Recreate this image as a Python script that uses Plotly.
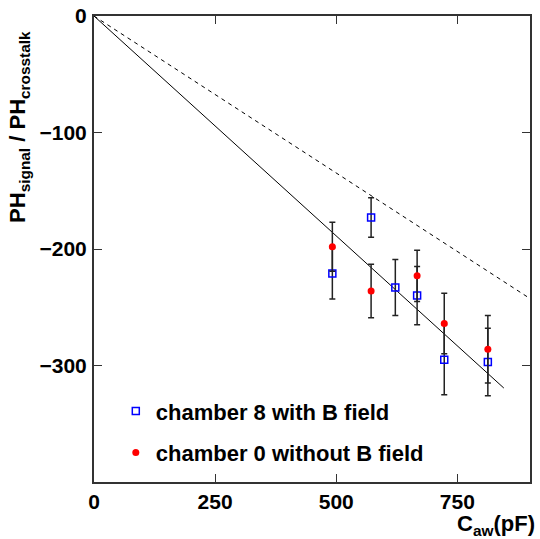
import plotly.graph_objects as go

# chamber 8 with B field (blue open squares)
ch8_x = [492, 572, 622, 667, 723, 813]
ch8_y = [-221, -173, -233, -240, -295, -297]
ch8_err = [22, 17, 24, 25, 30, 29]

# chamber 0 without B field (red dots)
ch0_x = [492, 572, 667, 723, 813]
ch0_y = [-198, -236, -223, -264, -286]
ch0_err = [21, 23, 22, 26, 29]

# straight lines through the origin
fit_slope = -0.3775
fit_x = [0, 846]
pred_slope = -0.2695
pred_x = [0, 900]

x_ticks = [0, 250, 500, 750]
y_ticks = [-300, -200, -100, 0]

FONT = "Liberation Sans, Arial, sans-serif"

fig = go.Figure()

fig.add_trace(go.Scatter(
    x=pred_x, y=[pred_slope * v for v in pred_x],
    mode="lines", line=dict(color="black", width=1, dash="4px,4px"),
    showlegend=False, hoverinfo="skip",
))
fig.add_trace(go.Scatter(
    x=fit_x, y=[fit_slope * v for v in fit_x],
    mode="lines", line=dict(color="black", width=1),
    showlegend=False, hoverinfo="skip",
))

fig.add_trace(go.Scatter(
    x=ch8_x, y=ch8_y, mode="markers", name="chamber 8 with B field",
    legendgroup="a",
    marker=dict(symbol="square-open", size=7, color="blue", line=dict(width=1.5)),
    error_y=dict(type="data", array=ch8_err, color="#222", thickness=1.5, width=3),
))
fig.add_trace(go.Scatter(
    x=ch0_x, y=ch0_y, mode="markers", name="chamber 0 without B field",
    legendgroup="b",
    marker=dict(symbol="circle", size=7, color="red"),
    error_y=dict(type="data", array=ch0_err, color="#222", thickness=1.5, width=3),
))

axis_common = dict(
    showgrid=False, zeroline=False, showline=True, mirror="ticks",
    linecolor="#333", linewidth=2, ticks="inside", ticklen=8,
    tickcolor="#333", tickwidth=1, automargin=False, ticklabeloverflow="allow",
    tickfont=dict(family=FONT, size=21, color="black", weight="bold"),
)

fig.update_xaxes(range=[0, 900], tickvals=x_ticks, **axis_common)
fig.update_yaxes(range=[-400, 0], tickvals=y_ticks, ticklabelstandoff=1, **axis_common)

fig.update_layout(
    width=540, height=539,
    margin=dict(l=94, r=10, t=16, b=57, autoexpand=False),
    plot_bgcolor="white", paper_bgcolor="white",
    showlegend=True,
    legend=dict(
        x=0.05, y=0.197, xanchor="left", yanchor="top",
        bgcolor="rgba(0,0,0,0)", tracegroupgap=10,
        font=dict(family=FONT, size=22, color="black", weight="bold"),
        itemwidth=30,
    ),
    annotations=[
        dict(
            text="PH<sub>signal</sub> / PH<sub>crosstalk</sub>",
            xref="paper", yref="paper", x=-0.172, y=0.762,
            xanchor="center", yanchor="middle", textangle=-90, showarrow=False,
            font=dict(family=FONT, size=22, color="black", weight="bold"),
        ),
        dict(
            text="C<sub>aw</sub>(pF)",
            xref="paper", yref="paper", x=1.017, y=-0.059,
            xanchor="right", yanchor="top", showarrow=False,
            font=dict(family=FONT, size=22, color="black", weight="bold"),
        ),
    ],
)

# drop the default page margin so the figure sits at the window's corner
fig.write_html("out.html", config={"displayModeBar": False},
               post_script="document.body.style.margin = '0';")
